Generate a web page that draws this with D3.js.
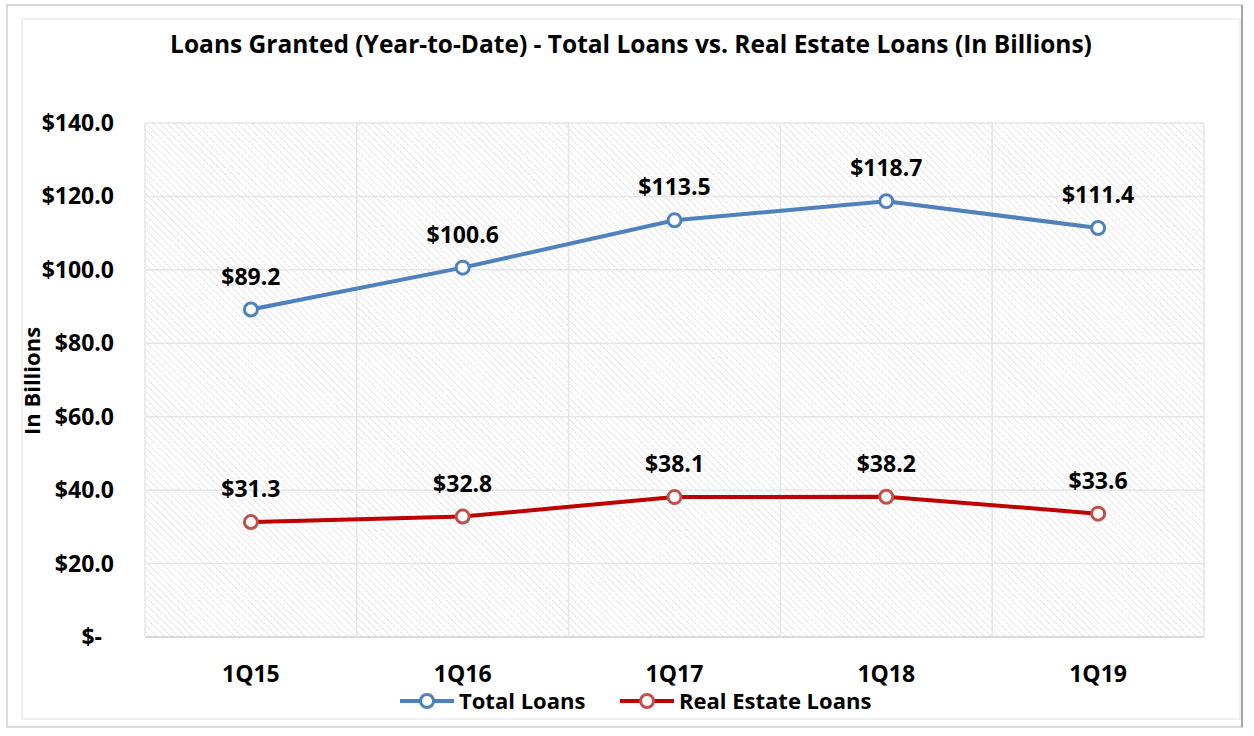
<!DOCTYPE html>
<meta charset="utf-8">
<style>
body { margin: 0; background: #fff; font-family: "Open Sans", Lato, sans-serif; }
text { font-weight: bold; fill: #000; }
</style>
<body>
<script src="https://d3js.org/d3.v7.min.js"></script>
<script>
// data
var quarters = ["1Q15", "1Q16", "1Q17", "1Q18", "1Q19"];
var totalLoans = [89.2, 100.6, 113.5, 118.7, 111.4];
var realEstateLoans = [31.3, 32.8, 38.1, 38.2, 33.6];
var yTicks = [0, 20, 40, 60, 80, 100, 120, 140];
var seriesNames = ["Total Loans", "Real Estate Loans"];

var W = 1254, H = 736;
var margin = {top: 123, right: 50, bottom: 99, left: 145};
var width = W - margin.left - margin.right,
    height = H - margin.top - margin.bottom;

var svg = d3.select("body").append("svg")
    .attr("width", W)
    .attr("height", H);

// outer frames
svg.append("rect").attr("x", 7).attr("y", 5).attr("width", 1235).attr("height", 722)
    .attr("fill", "none").attr("stroke", "#d9d9d9").attr("stroke-width", 2);
svg.append("rect").attr("x", 22).attr("y", 19).attr("width", 1218).attr("height", 700)
    .attr("fill", "none").attr("stroke", "#ececec").attr("stroke-width", 1.5);
svg.append("line").attr("x1", 1242).attr("x2", 1242).attr("y1", 5).attr("y2", 727)
    .attr("stroke", "#a6a6a6").attr("stroke-width", 2);

// hatch pattern
var defs = svg.append("defs");
var pat = defs.append("pattern").attr("id", "hatch")
    .attr("patternUnits", "userSpaceOnUse")
    .attr("width", 5).attr("height", 5)
    .attr("patternTransform", "rotate(-45)");
pat.append("line").attr("x1", 0).attr("y1", 0).attr("x2", 0).attr("y2", 5)
    .attr("stroke", "#cbcbcb").attr("stroke-width", 1.5).attr("stroke-dasharray", "1.5,1");

var g = svg.append("g").attr("transform", "translate(" + margin.left + "," + margin.top + ")");

var x = d3.scaleBand().domain(quarters).range([0, width]);
var y = d3.scaleLinear().domain([0, 140]).range([height, 0]);

g.append("rect").attr("width", width).attr("height", height).attr("fill", "url(#hatch)");

// gridlines
g.selectAll(".hgrid").data(yTicks).enter().append("line")
    .attr("x1", 0).attr("x2", width)
    .attr("y1", function(d) { return y(d); }).attr("y2", function(d) { return y(d); })
    .attr("stroke", function(d) { return d === 0 ? "#d9d9d9" : "#e6e6e6"; })
    .attr("stroke-width", function(d) { return d === 0 ? 2 : 1.5; });
var bounds = quarters.map(function(q) { return x(q); }).concat([width]);
g.selectAll(".vgrid").data(bounds).enter().append("line")
    .attr("x1", function(d) { return d; }).attr("x2", function(d) { return d; })
    .attr("y1", 0).attr("y2", height)
    .attr("stroke", "#e6e6e6").attr("stroke-width", 1.5);

// y axis labels
g.selectAll(".ytick").data(yTicks).enter().append("text")
    .attr("x", function(d) { return d === 0 ? -43 : -31; })
    .attr("y", function(d) { return y(d); })
    .attr("dy", "0.35em")
    .attr("text-anchor", "end")
    .style("font-size", "23px")
    .text(function(d) { return d === 0 ? "$-" : "$" + d.toFixed(1); });

// x axis labels
g.selectAll(".xtick").data(quarters).enter().append("text")
    .attr("x", function(d) { return x(d) + x.bandwidth() / 2; })
    .attr("y", height + 45)
    .attr("text-anchor", "middle")
    .style("font-size", "23px")
    .text(function(d) { return d; });

// title
svg.append("text").attr("x", 631).attr("y", 53).attr("text-anchor", "middle")
    .style("font-size", "24.5px")
    .text("Loans Granted (Year-to-Date) - Total Loans vs. Real Estate Loans (In Billions)");

// y axis title
svg.append("text").attr("transform", "translate(40,381) rotate(-90)")
    .attr("text-anchor", "middle").style("font-size", "22px").text("In Billions");

var series = [
  {name: seriesNames[0], values: totalLoans, line: "#4f81bd", marker: "#4f81bd"},
  {name: seriesNames[1], values: realEstateLoans, line: "#c00000", marker: "#c0504d"}
];

var line = d3.line()
    .x(function(d, i) { return x(quarters[i]) + x.bandwidth() / 2; })
    .y(function(d) { return y(d); });

series.forEach(function(s) {
  g.append("path").datum(s.values)
      .attr("fill", "none").attr("stroke", s.line).attr("stroke-width", 4)
      .attr("d", line);
  g.selectAll(null).data(s.values).enter().append("circle")
      .attr("cx", function(d, i) { return x(quarters[i]) + x.bandwidth() / 2; })
      .attr("cy", function(d) { return y(d); })
      .attr("r", 6.5).attr("fill", "#fff")
      .attr("stroke", s.marker).attr("stroke-width", 3);
  g.selectAll(null).data(s.values).enter().append("text")
      .attr("x", function(d, i) { return x(quarters[i]) + x.bandwidth() / 2; })
      .attr("y", function(d) { return y(d) - 25; })
      .attr("text-anchor", "middle")
      .style("font-size", "23px")
      .text(function(d) { return "$" + d.toFixed(1); });
});

// legend
var legend = svg.append("g");
var legendX = [400, 620];
series.forEach(function(s, i) {
  var lg = legend.append("g").attr("transform", "translate(" + legendX[i] + ",701)");
  lg.append("line").attr("x1", 0).attr("x2", 54).attr("stroke", s.line).attr("stroke-width", 4);
  lg.append("circle").attr("cx", 27).attr("r", 6.5).attr("fill", "#fff")
      .attr("stroke", s.marker).attr("stroke-width", 3);
  lg.append("text").attr("x", 59).attr("dy", "0.35em").style("font-size", "22px").text(s.name);
});
</script>
</body>
